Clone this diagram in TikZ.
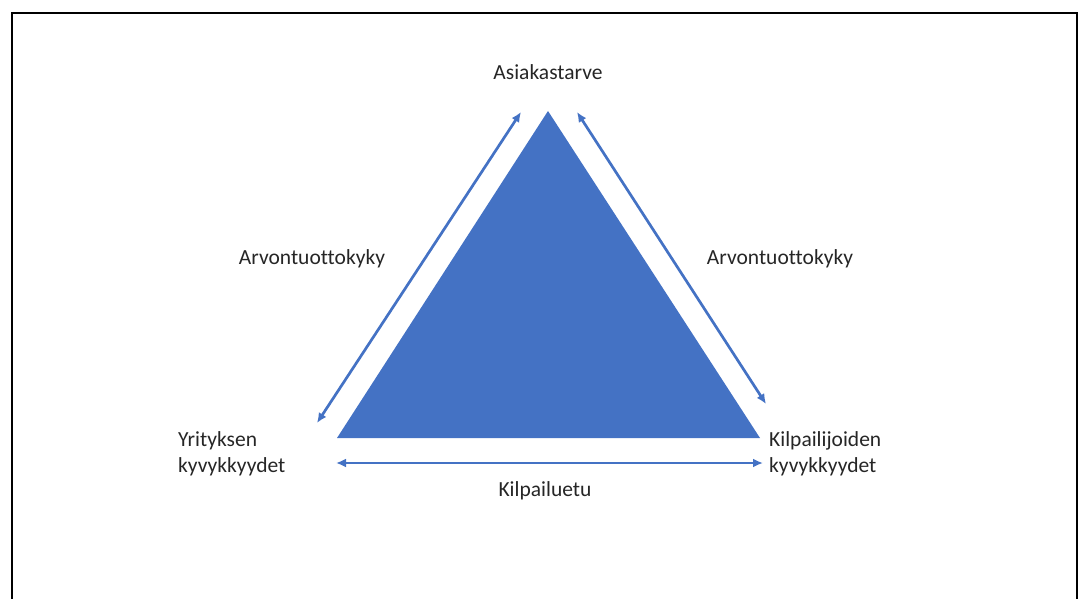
\documentclass[tikz,border=0pt]{standalone}
\usepackage{fontspec}
\setmainfont[Ligatures=NoCommon]{Carlito}
\usetikzlibrary{arrows.meta}
\definecolor{tri}{HTML}{4472C4}
\begin{document}
\begin{tikzpicture}[x=1pt,y=-1pt,
  lbl/.style={font=\fontsize{21.5}{25.5}\selectfont, text=black!85, inner sep=0pt},
  conn/.style={draw=tri, line width=2.7pt, {Latex[length=10pt,width=9pt]}-{Latex[length=10pt,width=9pt]}}]
  \useasboundingbox (0,0) rectangle (1080,599);
  % frame, open at the bottom
  \draw[line width=1.8pt] (12,605) -- (12,13) -- (1077,13) -- (1077,605);
  % central triangle
  \fill[tri] (548,111) -- (337,438) -- (760,438) -- cycle;
  % corner points for connectors
  \coordinate (l1) at (521,112);
  \coordinate (l2) at (317,423);
  \coordinate (r1) at (577,112);
  \coordinate (r2) at (766,404);
  \coordinate (b1) at (336,463);
  \coordinate (b2) at (763,463);
  \draw[conn] (l1) -- (l2);
  \draw[conn] (r1) -- (r2);
  \draw[conn] (b1) -- (b2);
  % labels
  \node[lbl] (top) at (548,72) {Asiakastarve};
  \node[lbl] (al) at (312,259) {Arvontuottokyky};
  \node[lbl] (ar) at (780,259) {Arvontuottokyky};
  \node[lbl, anchor=west, align=left] (yr) at (178,454) {Yrityksen\\kyvykkyydet};
  \node[lbl, anchor=west, align=left] (ki) at (769,454) {Kilpailijoiden\\kyvykkyydet};
  \node[lbl] (ke) at (545,491) {Kilpailuetu};
\end{tikzpicture}
\end{document}
